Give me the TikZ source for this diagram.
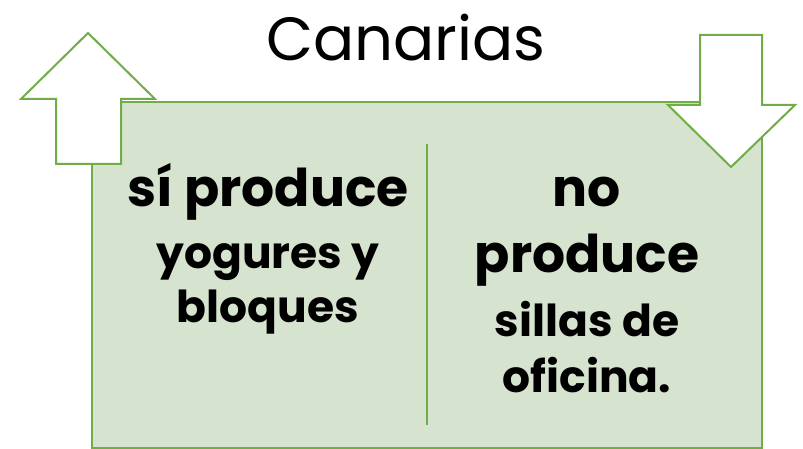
\documentclass[tikz,border=0pt]{standalone}
\usepackage{fontspec}
\setmainfont{Poppins}
\usetikzlibrary{positioning}
\definecolor{boxgreen}{RGB}{112,173,71}
\definecolor{boxfill}{RGB}{214,227,206}

\begin{document}
\begin{tikzpicture}[x=1pt, y=-1pt]
\tikzstyle{edge}=[draw=boxgreen, line width=2pt]
\tikzstyle{big}=[anchor=base, inner sep=0pt, font=\fontsize{52}{52}\selectfont\bfseries]
\tikzstyle{small}=[anchor=base, inner sep=0pt, font=\fontsize{44}{44}\selectfont\bfseries]
\useasboundingbox (0,0) rectangle (803,449);
\draw[edge, fill=boxfill] (92,102) rectangle (762,448);
\node[anchor=base, inner sep=0pt, font=\fontsize{61}{61}\selectfont] (title) at (406,61) {Canarias};
\draw[edge, fill=white, line join=miter] (88,33) -- (155,99) -- (121,99) -- (121,164) -- (56,164) -- (56,99) -- (21,99) -- cycle;
\draw[edge, fill=white, line join=miter] (700,35) -- (762,35) -- (762,105) -- (795,105) -- (731,167) -- (668,105) -- (700,105) -- cycle;
\coordinate (divtop) at (427,144);
\coordinate (divbot) at (427,425);
\draw[edge] (divtop) -- (divbot);
\node[big] (si) at (268,207) {sí produce};
\node[small] (yog) at (268,268) {yogures y};
\node[small] (blo) at (268,322) {bloques};
\node[big] (no) at (587,207) {no};
\node[big] (prod) at (587,272) {produce};
\node[small] (sil) at (587,336) {sillas de};
\node[small] (ofi) at (587,392) {oficina.};
\end{tikzpicture}
\end{document}
